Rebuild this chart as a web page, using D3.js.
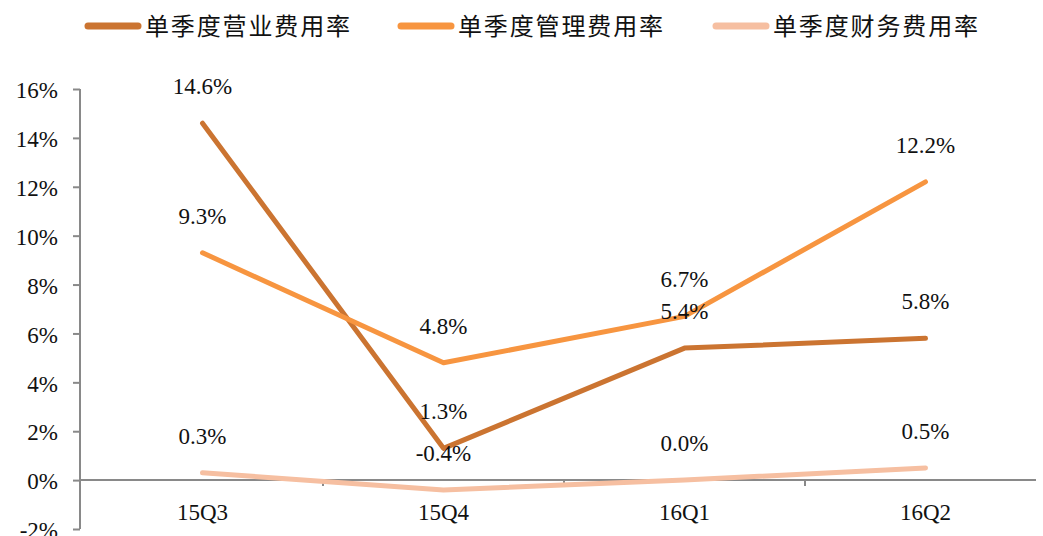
<!DOCTYPE html>
<html>
<head>
<meta charset="utf-8">
<script src="https://cdn.jsdelivr.net/npm/d3@7"></script>
<style>
  body { margin: 0; background: #fff; }
  svg { display: block; }
</style>
</head>
<body>
<div id="chart"></div>
<script>
// quarters on the x axis
var quarters = ["15Q3", "15Q4", "16Q1", "16Q2"];
// series values, in percent
var sales = [14.6, 1.3, 5.4, 5.8];
var admin = [9.3, 4.8, 6.7, 12.2];
var finance = [0.3, -0.4, 0.0, 0.5];
var seriesNames = ["单季度营业费用率", "单季度管理费用率", "单季度财务费用率"];
var yTicks = [-2, 0, 2, 4, 6, 8, 10, 12, 14, 16];

var width = 1043;
var height = 536;
var colors = ["#CB7431", "#F79540", "#F6BFA1"];
var axisColor = "#898989";
var numFont = "'Liberation Serif', 'DejaVu Serif', serif";
var cnFont = "'Noto Sans CJK SC', sans-serif";

var series = [sales, admin, finance].map(function (vals, i) {
  return {
    name: seriesNames[i],
    color: colors[i],
    values: vals.map(function (v, j) { return { q: quarters[j], v: v }; })
  };
});

var svg = d3.select("#chart")
  .append("svg")
  .attr("width", width)
  .attr("height", height);

/* Scales */
var x = d3.scaleBand().domain(quarters).range([82, 1046]);
var y = d3.scaleLinear().domain([-2, 16]).range([529, 89]);
var cx = function (q) { return x(q) + x.bandwidth() / 2; };

/* y axis */
var yAxis = d3.axisLeft(y)
  .tickValues(yTicks)
  .tickSize(7)
  .tickPadding(15)
  .tickFormat(function (d) { return d + "%"; });

var gy = svg.append("g")
  .attr("transform", "translate(80,0)")
  .call(yAxis);
gy.select(".domain").attr("stroke", axisColor).attr("stroke-width", 2)
  .attr("d", "M0," + y(-2) + "V" + y(16));
gy.selectAll(".tick line").attr("stroke", axisColor).attr("stroke-width", 2);
gy.selectAll(".tick text")
  .attr("fill", "#111")
  .style("font-family", numFont)
  .style("font-size", "23px")
  .attr("dy", "0.38em");

/* x axis along 0% */
var gx = svg.append("g")
  .attr("transform", "translate(0," + y(0) + ")");
gx.append("line")
  .attr("x1", 80).attr("x2", 1036)
  .attr("stroke", axisColor).attr("stroke-width", 2);
gx.selectAll(".xtick")
  .data(quarters.slice(1))
  .enter()
  .append("line")
  .attr("class", "xtick")
  .attr("x1", function (d) { return x(d); })
  .attr("x2", function (d) { return x(d); })
  .attr("y1", 0).attr("y2", 6)
  .attr("stroke", axisColor).attr("stroke-width", 2);

svg.append("g")
  .selectAll("text")
  .data(quarters)
  .enter()
  .append("text")
  .attr("x", function (d) { return cx(d); })
  .attr("y", 520)
  .attr("text-anchor", "middle")
  .attr("fill", "#111")
  .style("font-family", numFont)
  .style("font-size", "23px")
  .text(function (d) { return d; });

/* lines */
var line = d3.line()
  .x(function (d) { return cx(d.q); })
  .y(function (d) { return y(d.v); });

svg.append("g")
  .selectAll("path")
  .data(series)
  .enter()
  .append("path")
  .attr("d", function (d) { return line(d.values); })
  .attr("fill", "none")
  .attr("stroke", function (d) { return d.color; })
  .attr("stroke-width", 5)
  .attr("stroke-linecap", "round")
  .attr("stroke-linejoin", "round");

/* data labels */
series.forEach(function (s) {
  svg.append("g")
    .selectAll("text")
    .data(s.values)
    .enter()
    .append("text")
    .attr("x", function (d) { return cx(d.q); })
    .attr("y", function (d) { return y(d.v) - 29; })
    .attr("text-anchor", "middle")
    .attr("fill", "#111")
    .style("font-family", numFont)
    .style("font-size", "23px")
    .text(function (d) { return d.v.toFixed(1) + "%"; });
});

/* legend */
var legendX = [85, 398, 713];
var legend = svg.append("g")
  .selectAll("g")
  .data(series)
  .enter()
  .append("g")
  .attr("transform", function (d, i) { return "translate(" + legendX[i] + ",26)"; });

legend.append("line")
  .attr("x1", 3).attr("x2", 53)
  .attr("stroke", function (d) { return d.color; })
  .attr("stroke-width", 7)
  .attr("stroke-linecap", "round");

legend.append("text")
  .attr("x", 60)
  .attr("dy", "0.36em")
  .attr("fill", "#111")
  .style("font-family", cnFont)
  .style("font-size", "24px")
  .attr("textLength", 205)
  .attr("lengthAdjust", "spacing")
  .text(function (d) { return d.name; });
</script>
</body>
</html>
